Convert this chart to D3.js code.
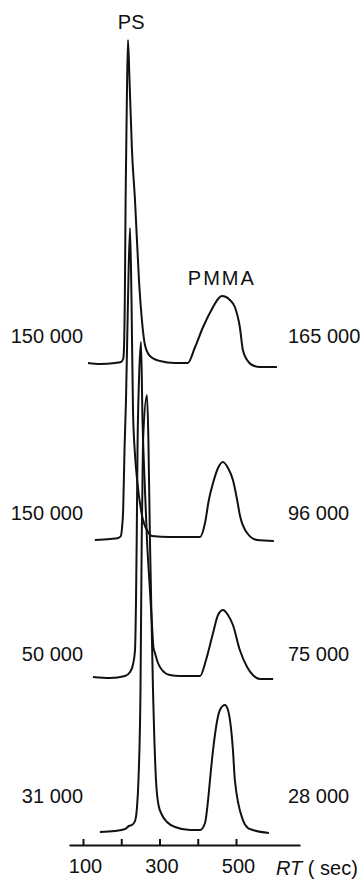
<!DOCTYPE html>
<html>
<head>
<meta charset="utf-8">
<script src="https://cdn.jsdelivr.net/npm/d3@7"></script>
<style>
  body { margin: 0; background: #fff; }
  text { font-family: "Liberation Sans", Arial, sans-serif; fill: #111; }
  .trace { fill: none; stroke: #111; stroke-width: 2; stroke-linejoin: round; }
  .axis path, .axis line { stroke: #111; stroke-width: 2; }
</style>
</head>
<body>
<div id="chart"></div>
<script>
  // molar masses written beside each chromatogram
  var psLabels   = ["150 000", "150 000", "50 000", "31 000"];
  var pmmaLabels = ["165 000", "96 000", "75 000", "28 000"];
  // vertical offset of each trace (detector units)
  var offsets = [482, 307, 168, 13];

  // [retention time (s), detector signal above the trace's own baseline]
  var trace1 = [[113,0],[144,-1],[184,0],[199,1],[205,4],[207,13],[209.8,83],[211.4,163],[213,213],[214.8,268],[217.6,323],
    [221.6,283],[228,213],[235.9,163],[246.3,83],[254,43],[262,18],[275,7],[301,2],[340,0],[374,0],
    [393,16],[414,36],[440,56],[453,64],[463,67],[474,66],[484,63],[497,56],[510,36],[518,13],[529,3],[542,-2],[563,-4],[607,-4]];
  var trace2 = [[131,-2],[171,-1],[192,0],[199,2],[202,10],[205,28],[208.5,88],[212.4,138],[217.6,238],[222.9,310],
    [226.8,238],[230.7,128],[236,83],[241,60],[254,23],[270,6],[280,2],[327,1],[406,1],
    [419,15],[429,38],[440,55],[453,70],[466,76],[479,70],[492,58],[503,38],[510,23],[529,5],[555,-2],[599,-3]];
  var trace3 = [[126,0],[171,-1],[210,1],[223,5],[231,13],[236,27],[238.6,77],[240.4,137],[242.5,227],[246.4,297],[251.6,335],
    [255.6,257],[262,187],[267.3,137],[275,87],[280.4,52],[284.3,29],[288.2,24],[296,14],[306.5,7],[327,2],[353,1],[406,1],
    [421.6,17],[440,44],[453,62],[466,67],[479,62],[492,52],[510,27],[529,10],[544,2],[563,-2],[597,-2]];
  var trace4 = [[144,0],[184,1],[210,3],[220,6],[228,7],[236,11],[241,24],[245,52],[250.3,142],[253.5,292],[257,392],[267.3,437],
    [271,392],[275,292],[283,142],[290.8,52],[297.4,27],[306.5,17],[319.6,10],[340.5,5],[380,2],[406,2],
    [419,9],[427,32],[432,52],[440,82],[458,122],[471,127],[479,122],[492,82],[497,52],[518,12],[531,4],[544,2],[586,-1]];
  var traces = [trace1, trace2, trace3, trace4];

  var tickValues = [100, 200, 300, 400, 500];
  var tickLabels = ["100", "", "300", "", "500"];

  var width = 360, height = 884;
  var axisY = 845;
  var labelRise = [20, 18, 16, 29];

  var svg = d3.select("#chart").append("svg")
      .attr("width", width)
      .attr("height", height);

  svg.append("rect").attr("width", width).attr("height", height).attr("fill", "#fff");

  var x = d3.scaleLinear().domain([100, 500]).range([83, 236]);
  var y = d3.scaleLinear().domain([0, 800]).range([axisY, axisY - 800]);

  var line = d3.line()
      .curve(d3.curveMonotoneX)
      .x(function(d) { return x(d[0]); });

  traces.forEach(function(t, i) {
    svg.append("path")
      .datum(t)
      .attr("class", "trace")
      .attr("d", line.y(function(d) { return y(offsets[i] + d[1]); }));

    var base = y(offsets[i]);
    svg.append("text")
      .attr("x", 83)
      .attr("y", base - labelRise[i])
      .attr("text-anchor", "end")
      .attr("font-size", 20)
      .text(psLabels[i]);
    svg.append("text")
      .attr("x", 288)
      .attr("y", base - labelRise[i])
      .attr("font-size", 20)
      .text(pmmaLabels[i]);
  });

  svg.append("text")
    .attr("x", x(226))
    .attr("y", 29)
    .attr("text-anchor", "middle")
    .attr("font-size", 20)
    .text("PS");

  svg.append("text")
    .attr("x", x(463))
    .attr("y", 285)
    .attr("text-anchor", "middle")
    .attr("font-size", 20)
    .attr("letter-spacing", 2)
    .text("PMMA");

  // axis, ticks pointing up
  var xa = x.copy().domain([x.invert(69), x.invert(300)]).range([69, 300]);
  var axis = svg.append("g")
      .attr("class", "axis")
      .attr("transform", "translate(0," + axisY + ")")
      .call(d3.axisBottom(xa)
        .tickValues(tickValues)
        .tickSizeInner(-6)
        .tickSizeOuter(0)
        .tickPadding(14)
        .tickFormat(function(d, i) { return tickLabels[i]; }));
  axis.selectAll("text")
      .attr("font-size", 20)
      .attr("font-family", "Liberation Sans, Arial, sans-serif")
      .attr("fill", "#111")
      .attr("dx", 2);

  var rt = svg.append("text")
      .attr("x", 276)
      .attr("y", 875)
      .attr("font-size", 20);
  rt.append("tspan").attr("font-style", "italic").text("RT");
  rt.append("tspan").text(" ( sec)");
</script>
</body>
</html>
